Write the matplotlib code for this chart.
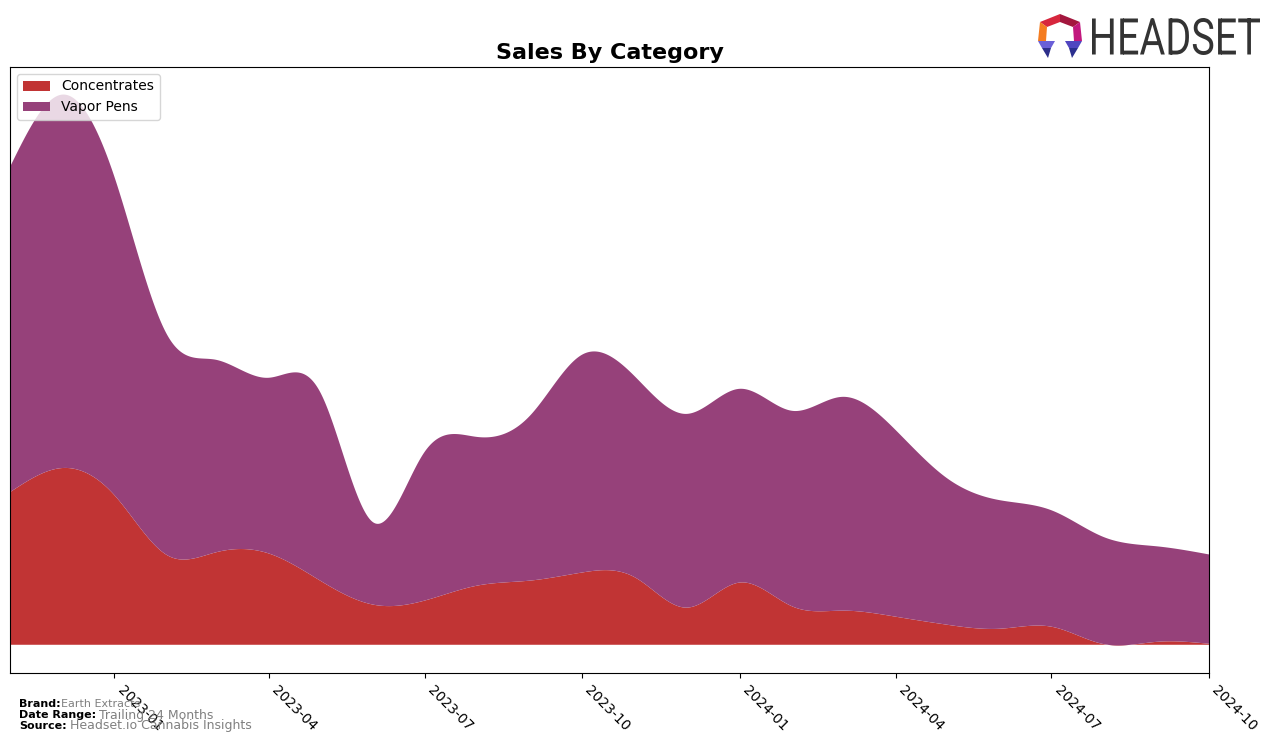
import numpy as np
import pandas as pd
import matplotlib
matplotlib.use("Agg")
import matplotlib.pyplot as plt
import matplotlib.dates as mdates
from matplotlib.patches import Polygon, PathPatch
from matplotlib.textpath import TextPath
from matplotlib.font_manager import FontProperties
from matplotlib.transforms import Affine2D

# monthly sales (arbitrary units)
months = pd.date_range("2022-11-01", "2024-10-01", freq="MS")
concentrates = [152, 176, 149, 89, 92, 91, 64, 40, 44, 59, 64, 72,
                67, 37, 62, 38, 34, 28, 20, 16, 18, 0.5, 3, 1]
total = [476, 548, 466, 308, 284, 266, 252, 122, 192, 207, 229, 289,
         267, 230, 255, 233, 247, 214, 166, 144, 134, 107, 98, 90]
vapor_pens = [t - c for t, c in zip(total, concentrates)]

categories = ["Concentrates", "Vapor Pens"]
colors = ["#c13434", "#96417a"]


def natural_spline(x, y, xs):
    x = np.asarray(x, float)
    y = np.asarray(y, float)
    n = len(x)
    h = np.diff(x)
    A = np.zeros((n, n))
    b = np.zeros(n)
    A[0, 0] = A[-1, -1] = 1
    for i in range(1, n - 1):
        A[i, i - 1] = h[i - 1]
        A[i, i] = 2 * (h[i - 1] + h[i])
        A[i, i + 1] = h[i]
        b[i] = 3 * ((y[i + 1] - y[i]) / h[i] - (y[i] - y[i - 1]) / h[i - 1])
    c = np.linalg.solve(A, b)
    idx = np.clip(np.searchsorted(x, xs) - 1, 0, n - 2)
    dx = xs - x[idx]
    bb = (y[idx + 1] - y[idx]) / h[idx] - h[idx] * (2 * c[idx] + c[idx + 1]) / 3
    d = (c[idx + 1] - c[idx]) / (3 * h[idx])
    return y[idx] + bb * dx + c[idx] * dx ** 2 + d * dx ** 3


xnum = mdates.date2num(months)
xs = np.linspace(xnum[0], xnum[-1], 1200)
conc_s = natural_spline(xnum, concentrates, xs)
vape_s = natural_spline(xnum, vapor_pens, xs)

fig = plt.figure(figsize=(12.76, 7.43), dpi=100)
ax = fig.add_axes([10 / 1276, 70 / 743, 1199 / 1276, 606 / 743])
ax.stackplot(xs, conc_s, vape_s, labels=categories, colors=colors)
ax.set_xlim(xnum[0], xnum[-1])
ax.set_yticks([])
ax.xaxis.set_major_locator(mdates.MonthLocator(bymonth=[1, 4, 7, 10]))
ax.xaxis.set_major_formatter(mdates.DateFormatter("%Y-%m"))
for lbl in ax.get_xticklabels():
    lbl.set_rotation(-45)
    lbl.set_ha("left")
    lbl.set_fontsize(10)
ax.set_title("Sales By Category", fontsize=16, fontweight="bold", pad=6)
ax.legend(loc="upper left", fontsize=10)

# footer
fig.text(19 / 1276, 1 - 704 / 743, "Brand:", fontsize=8, fontweight="bold", va="center")
fig.text(61 / 1276, 1 - 704 / 743, "Earth Extracts", fontsize=8, color="gray", va="center")
fig.text(19 / 1276, 1 - 715 / 743, "Date Range:", fontsize=8, fontweight="bold", va="center")
fig.text(99 / 1276, 1 - 715 / 743, "Trailing 24 Months", fontsize=9, color="gray", va="center")
fig.text(19 / 1276, 1 - 726 / 743, "Source:", fontsize=8, fontweight="bold", va="center")
fig.text(70 / 1276, 1 - 726 / 743, "Headset.io Cannabis Insights", fontsize=9, color="gray", va="center")

# logo
lax = fig.add_axes([0, 0, 1, 1], zorder=5)
lax.set_xlim(0, 1276)
lax.set_ylim(743, 0)
lax.axis("off")
ox, oy = 1038, 14
shapes = [
    ([(2, 8), (22, 0), (22, 8), (9, 13)], "#d7263d"),
    ([(22, 0), (42, 8), (35, 13), (22, 8)], "#a3173e"),
    ([(2, 8), (9, 13), (8, 27), (0, 27)], "#f47c20"),
    ([(42, 8), (44, 27), (36, 27), (35, 13)], "#c2187e"),
    ([(0, 27), (17, 27), (13, 34), (4, 34)], "#6a5fd8"),
    ([(4, 34), (13, 34), (10, 44)], "#2c2e8a"),
    ([(27, 27), (44, 27), (40, 34), (31, 34)], "#5046c0"),
    ([(31, 34), (40, 34), (34, 44)], "#2b2f8f"),
]
for pts, col in shapes:
    lax.add_patch(Polygon([(ox + px, oy + py) for px, py in pts], closed=True,
                          facecolor=col, edgecolor="none"))
tp = TextPath((0, 0), "HEADSET", size=50, prop=FontProperties(family="Roboto"))
bb = tp.get_extents()
tr = Affine2D().translate(-bb.x0, -bb.y0).scale(168 / bb.width, -37 / bb.height).translate(1092, 55)
lax.add_patch(PathPatch(tr.transform_path(tp), facecolor="#333333", edgecolor="none"))

fig.savefig("out.png", dpi=100)
